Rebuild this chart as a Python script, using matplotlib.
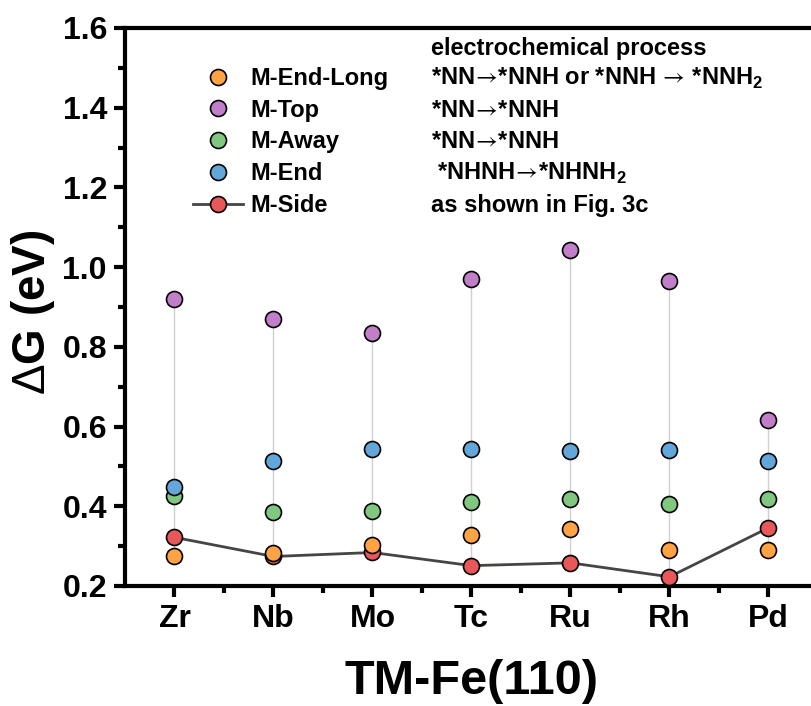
import matplotlib.pyplot as plt
import numpy as np

plt.rcParams['font.family'] = ['Liberation Sans', 'DejaVu Sans']
plt.rcParams['font.weight'] = 'bold'
plt.rcParams['mathtext.fontset'] = 'custom'
plt.rcParams['mathtext.rm'] = 'Liberation Sans:bold'
plt.rcParams['mathtext.sf'] = 'Liberation Sans:weight=normal'
plt.rcParams['mathtext.cal'] = 'STIXGeneral:weight=normal'

metals = ['Zr', 'Nb', 'Mo', 'Tc', 'Ru', 'Rh', 'Pd']

# reaction free energies (eV) for each adsorption configuration
end_long = [0.275, 0.282, 0.303, 0.329, 0.342, 0.290, 0.290]
top = [0.919, 0.870, 0.835, 0.971, 1.043, 0.965, 0.616]
away = [0.426, 0.385, 0.389, 0.411, 0.418, 0.406, 0.418]
end = [0.449, 0.513, 0.543, 0.544, 0.539, 0.541, 0.514]
side = [0.322, 0.274, 0.284, 0.251, 0.258, 0.223, 0.346]

arrow = r'$\!\mathcal{\rightarrow}\!$'
names = ['M-End-Long', 'M-Top', 'M-Away', 'M-End', 'M-Side']
processes = ['*NN' + arrow + '*NNH or *NNH ' + arrow + ' *NNH$_2$',
             '*NN' + arrow + '*NNH',
             '*NN' + arrow + '*NNH',
             ' *NHNH' + arrow + '*NHNH$_2$',
             'as shown in Fig. 3c']
colors = ['#FFA344', '#C27FC9', '#80C880', '#62A6DA', '#E8575A']

fig = plt.figure(figsize=(8.11, 7.06), dpi=100)
ax = fig.add_axes([0.1541, 0.170, 0.8545, 0.7904])

x = np.arange(len(metals))
series = [end_long, top, away, end, side]
allv = np.array(series)

# high-low drop lines
ax.vlines(x, allv.min(axis=0), allv.max(axis=0), color='#d0d0d0', lw=1, zorder=1)

handles = []
for vals, name, c in zip(series, names, colors):
    if name == 'M-Side':
        h, = ax.plot(x, vals, '-o', color='#454545', lw=2, ms=11.5,
                     mfc=c, mec='black', mew=1.2, label=name, zorder=3)
    else:
        h, = ax.plot(x, vals, 'o', ms=11.5, mfc=c, mec='black', mew=1.2,
                     label=name, zorder=4 if name == 'M-End-Long' else 3)
    handles.append(h)

ax.set_xlim(-0.5, 6.5)
ax.set_ylim(0.2, 1.6)
ax.set_xticks(x)
ax.set_xticklabels(metals)
ax.set_xticks(x[:-1] + 0.5, minor=True)
ax.set_yticks(np.arange(0.2, 1.61, 0.2))
ax.set_yticks(np.arange(0.3, 1.6, 0.2), minor=True)
ax.yaxis.set_major_formatter(plt.FormatStrFormatter('%.1f'))

for s in ['left', 'bottom', 'top']:
    ax.spines[s].set_linewidth(3)
ax.spines['right'].set_visible(False)
ax.tick_params(which='major', direction='out', length=8, width=3, labelsize=23, pad=5)
ax.tick_params(which='minor', direction='out', length=5, width=3)

ax.set_xlabel('TM-Fe(110)', fontsize=35, fontweight='bold', labelpad=18)
ax.set_ylabel(r'$\mathsf{\Delta}$G (eV)', fontsize=33, fontweight='bold')
ax.yaxis.set_label_coords(-0.098, 0.49)

leg = ax.legend(handles=handles, loc='upper left', bbox_to_anchor=(0.085, 0.947),
                frameon=False, fontsize=17, handlelength=2.1, handletextpad=0.3,
                labelspacing=0.37, borderaxespad=0)

ax.text(0.441, 0.964, 'electrochemical process', transform=ax.transAxes,
        fontsize=17, fontweight='bold', va='center', ha='left')

fig.canvas.draw()
inv = ax.transAxes.inverted()
for t, proc in zip(leg.get_texts(), processes):
    bb = t.get_window_extent()
    yc = inv.transform(((bb.x0 + bb.x1) / 2, (bb.y0 + bb.y1) / 2))[1]
    ax.text(0.441, yc, proc, transform=ax.transAxes, fontsize=17,
            fontweight='bold', va='center', ha='left')

fig.savefig('out.png', dpi=100)
